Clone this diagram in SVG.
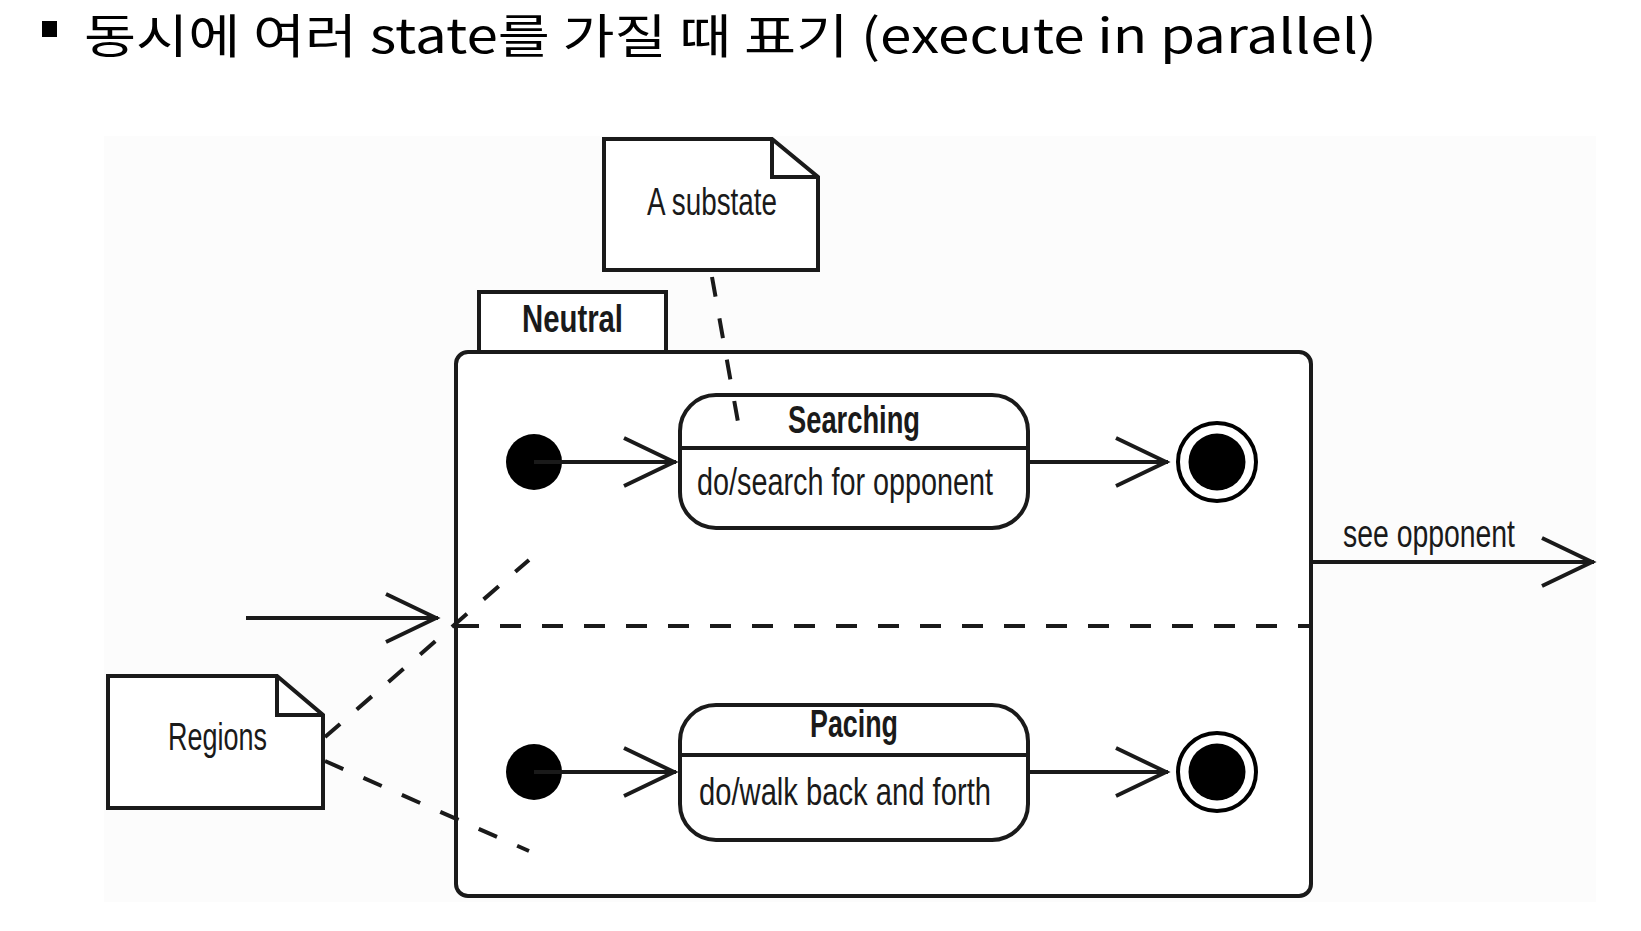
<svg xmlns="http://www.w3.org/2000/svg" width="1641" height="931" viewBox="0 0 1641 931">
<defs>
<style>
.lbl{font-family:"Liberation Sans Narrow","Liberation Sans",Arial,sans-serif;font-size:38px;fill:#1a1a1a}
.b{font-weight:bold}
.title{font-family:"Noto Sans CJK KR","Noto Sans",sans-serif;font-size:47px;fill:#000}
.box{fill:#fff;stroke:#1a1a1a;stroke-width:4}
.edge{fill:none;stroke:#1a1a1a;stroke-width:4}
.anchor{fill:none;stroke:#1a1a1a;stroke-width:4;stroke-dasharray:20 22}
.div{fill:none;stroke:#1a1a1a;stroke-width:4;stroke-dasharray:21 21}
</style>
<marker id="open" markerUnits="userSpaceOnUse" markerWidth="64" markerHeight="64" viewBox="-58 -32 64 64" refX="0" refY="0" orient="auto" overflow="visible">
<path d="M-52,-24 L-2,0 L-52,24" fill="none" stroke="#1a1a1a" stroke-width="4"/>
</marker>
</defs>
<rect x="0" y="0" width="1641" height="931" fill="#fff"/>
<rect x="104" y="136" width="1492" height="766" fill="#fcfcfc"/>

<g id="title">
<rect x="42" y="21" width="15" height="16" fill="#000"/>
<text class="title" x="84" y="53" textLength="1293" lengthAdjust="spacingAndGlyphs">동시에 여러 state를 가질 때 표기 (execute in parallel)</text>
</g>

<g id="neutral">
<rect class="box" x="479" y="292" width="187" height="60"/>
<text class="lbl b" x="522" y="332" textLength="101" lengthAdjust="spacingAndGlyphs">Neutral</text>
<rect class="box" x="456" y="352" width="855" height="544" rx="12" ry="12"/>
<line class="div" x1="458" y1="626" x2="1309" y2="626"/>
</g>

<g id="note-substate">
<path class="box" d="M604,139 L772,139 L818,177 L818,270 L604,270 Z"/>
<path class="edge" d="M772,139 L772,177 L818,177"/>
<text class="lbl" x="647" y="215" textLength="130" lengthAdjust="spacingAndGlyphs">A substate</text>
</g>

<g id="note-regions">
<path class="box" d="M108,676 L277,676 L323,715 L323,808 L108,808 Z"/>
<path class="edge" d="M277,676 L277,715 L323,715"/>
<text class="lbl" x="168" y="750" textLength="99" lengthAdjust="spacingAndGlyphs">Regions</text>
</g>

<g id="init1"><circle cx="534" cy="462" r="28" fill="#000"/></g>
<g id="init2"><circle cx="534" cy="772" r="28" fill="#000"/></g>

<g id="searching">
<rect class="box" x="680" y="395" width="348" height="133" rx="36" ry="36"/>
<line class="edge" x1="680" y1="448" x2="1028" y2="448"/>
<text class="lbl b" x="788" y="433" textLength="132" lengthAdjust="spacingAndGlyphs">Searching</text>
<text class="lbl" x="697" y="495" textLength="296" lengthAdjust="spacingAndGlyphs">do/search for opponent</text>
</g>

<g id="pacing">
<rect class="box" x="680" y="705" width="348" height="135" rx="36" ry="36"/>
<line class="edge" x1="680" y1="755" x2="1028" y2="755"/>
<text class="lbl b" x="810" y="737" textLength="88" lengthAdjust="spacingAndGlyphs">Pacing</text>
<text class="lbl" x="699" y="805" textLength="292" lengthAdjust="spacingAndGlyphs">do/walk back and forth</text>
</g>

<g id="final1">
<circle cx="1217" cy="462" r="39" fill="#fff" stroke="#000" stroke-width="4"/>
<circle cx="1217" cy="462" r="28.5" fill="#000"/>
</g>
<g id="final2">
<circle cx="1217" cy="772" r="39" fill="#fff" stroke="#000" stroke-width="4"/>
<circle cx="1217" cy="772" r="28.5" fill="#000"/>
</g>

<g id="connectors">
<line class="edge" x1="246" y1="618" x2="438" y2="618" marker-end="url(#open)"/>
<line class="edge" x1="534" y1="462" x2="676" y2="462" marker-end="url(#open)"/>
<line class="edge" x1="1028" y1="462" x2="1168" y2="462" marker-end="url(#open)"/>
<line class="edge" x1="534" y1="772" x2="676" y2="772" marker-end="url(#open)"/>
<line class="edge" x1="1028" y1="772" x2="1168" y2="772" marker-end="url(#open)"/>
<line class="edge" x1="1311" y1="562" x2="1594" y2="562" marker-end="url(#open)"/>
<text class="lbl" x="1343" y="547" textLength="172" lengthAdjust="spacingAndGlyphs">see opponent</text>
<line class="anchor" x1="712" y1="277" x2="738" y2="422"/>
<line class="anchor" x1="325" y1="737" x2="529" y2="560"/>
<line class="anchor" x1="325" y1="761" x2="529" y2="851"/>
</g>
</svg>
